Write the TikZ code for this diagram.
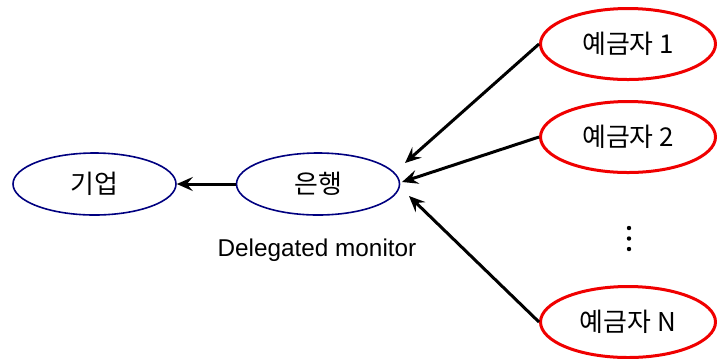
\documentclass[tikz,border=0pt]{standalone}
\usepackage{fontspec}
\setmainfont{Liberation Sans}
\newfontfamily\kr{Noto Sans CJK KR}
\usetikzlibrary{shapes.geometric,arrows.meta}
\definecolor{navyline}{RGB}{0,0,128}
\definecolor{redline}{RGB}{240,0,0}
\tikzset{
  firm/.style={ellipse,draw=navyline,line width=0.8bp,minimum width=81.5bp,minimum height=31bp,inner sep=0pt,font=\kr\fontsize{13}{15}\selectfont},
  saver/.style={ellipse,draw=redline,line width=1.5bp,minimum width=87.5bp,minimum height=35.5bp,inner sep=0pt,font=\kr\fontsize{13}{15}\selectfont},
  link/.style={-{Stealth[length=8bp,width=7bp,inset=3bp]},line width=1.5bp},
  dot/.style={circle,fill=black,inner sep=0pt,minimum size=2.2bp}
}
\begin{document}
\begin{tikzpicture}[x=0.5bp,y=-0.5bp]
  \useasboundingbox[fill=white] (0,0) rectangle (717,358);
  \node[firm] (firm) at (94.5,184) {기업};
  \node[firm] (bank) at (318,184) {은행};
  \node[saver] (d1) at (628,44) {예금자 1};
  \node[saver] (d2) at (628,137) {예금자 2};
  \node[saver] (dn) at (628,322) {예금자 N};
  \node[font=\fontsize{12.2}{14}\selectfont] (lbl) at (317,250) {Delegated monitor};
  \foreach \i/\y in {1/228,2/238.5,3/249}
    \node[dot] (dot\i) at (629,\y) {};
  \coordinate (in1) at (405,163);
  \coordinate (in2) at (402,182);
  \coordinate (in3) at (409,196);
  \draw[link] (d1.west) -- (in1);
  \draw[link] (d2.west) -- (in2);
  \draw[link] (dn.west) -- (in3);
  \draw[link] (bank.west) -- (firm.east);
\end{tikzpicture}
\end{document}
